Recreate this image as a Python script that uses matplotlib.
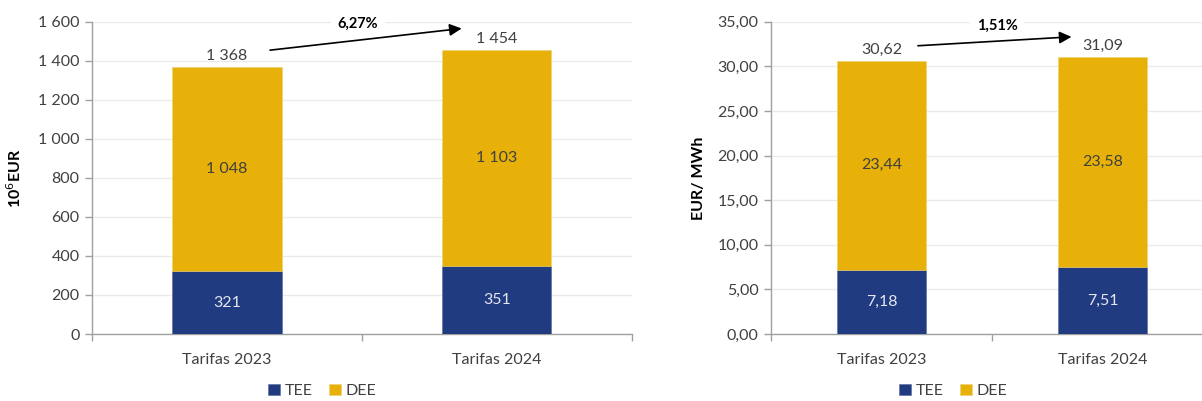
import matplotlib
matplotlib.use("Agg")
import matplotlib.pyplot as plt
import numpy as np

plt.rcParams['font.family'] = ['Lato', 'DejaVu Sans']

categories = ["Tarifas 2023", "Tarifas 2024"]
series_names = ["TEE", "DEE"]

# Left panel: millions of EUR
tee_eur = [321, 351]
dee_eur = [1048, 1103]
total_eur = [1368, 1454]
growth_eur = "6,27%"

# Right panel: EUR/MWh
tee_mwh = [7.18, 7.51]
dee_mwh = [23.44, 23.58]
total_mwh = [30.62, 31.09]
growth_mwh = "1,51%"

NAVY = "#213B80"
GOLD = "#E7B10A"
TXT = "#404040"
GRID = "#EBEBEB"
AXC = "#A0A0A0"
FS = 11.5


def fmt_int(v):
    return f"{v:,.0f}".replace(",", " ")


def fmt_dec(v):
    return f"{v:.2f}".replace(".", ",")


def draw(ax, tee, dee, totals, fmt, ylim, step, growth, arrow, ylabel,
         leg_x, labelpad):
    x = np.arange(len(categories))
    w = 0.405
    b1 = ax.bar(x, tee, w, color=NAVY, edgecolor="#5a6a9a", linewidth=0.4,
                label=series_names[0], zorder=3)
    b2 = ax.bar(x, dee, w, bottom=tee, color=GOLD, edgecolor="#f0d070",
                linewidth=0.4, label=series_names[1], zorder=3)
    for i in range(len(x)):
        ax.text(x[i], tee[i] / 2, fmt(tee[i]), ha="center", va="center",
                color="#E4E6F0", fontsize=FS, zorder=4)
        ax.text(x[i], tee[i] + dee[i] / 2, fmt(dee[i]), ha="center",
                va="center", color=TXT, fontsize=FS, zorder=4)
        ax.text(x[i], totals[i] + (ylim[1] * 0.012), fmt(totals[i]),
                ha="center", va="bottom", color=TXT, fontsize=FS, zorder=4)

    ax.set_xlim(-0.5, len(x) - 0.5)
    ax.set_ylim(*ylim)
    ticks = np.arange(ylim[0], ylim[1] + step / 2, step)
    ax.set_yticks(ticks)
    ax.set_yticklabels([fmt(t) for t in ticks], color=TXT, fontsize=FS)
    ax.set_xticks(x)
    ax.set_xticklabels(categories, color=TXT, fontsize=FS)
    ax.set_xticks(np.arange(-0.5, len(x)), minor=True)
    ax.tick_params(axis="x", which="major", length=0, pad=14)
    ax.tick_params(axis="x", which="minor", length=5, color=AXC, width=1)
    ax.tick_params(axis="y", length=5, color=AXC, width=1, pad=4)
    ax.yaxis.grid(True, color=GRID, linewidth=1, zorder=0)
    ax.set_axisbelow(True)
    for s in ("top", "right"):
        ax.spines[s].set_visible(False)
    for s in ("left", "bottom"):
        ax.spines[s].set_color(AXC)
        ax.spines[s].set_linewidth(1)
    ax.set_ylabel(ylabel, fontsize=FS, fontweight="bold", color="black",
                  labelpad=labelpad)

    (x0, y0), (x1, y1), (lx, ly) = arrow
    ax.annotate("", xy=(x1, y1), xytext=(x0, y0),
                arrowprops=dict(arrowstyle="-|>", color="black", lw=1.2,
                                mutation_scale=18, shrinkA=0, shrinkB=0),
                annotation_clip=False, zorder=6)
    ax.text(lx, ly, growth, ha="center", va="center", fontsize=10.5,
            fontweight="bold", color="black", zorder=5,
            bbox=dict(boxstyle="square,pad=0.45", facecolor="white",
                      edgecolor="none"))
    leg = ax.figure.legend(handles=[b1, b2], labels=series_names,
                           loc="center", bbox_to_anchor=(leg_x, 0.025),
                           ncol=2, frameon=False, fontsize=FS,
                           handlelength=0.75, handleheight=0.75,
                           handletextpad=0.3, columnspacing=1.0)
    for t in leg.get_texts():
        t.set_color(TXT)


fig = plt.figure(figsize=(12.02, 4.01), dpi=100)
ax1 = fig.add_axes([0.0765, 0.167, 0.449, 0.779])
ax2 = fig.add_axes([0.6414, 0.167, 0.3677, 0.779])

draw(ax1, tee_eur, dee_eur, total_eur, fmt_int, (0, 1600), 200, growth_eur,
     ((0.16, 1454), (0.87, 1565), (0.485, 1590)), r"10$^{6}$EUR", 0.268, 10)
draw(ax2, tee_mwh, dee_mwh, total_mwh, fmt_dec, (0, 35), 5, growth_mwh,
     ((0.165, 32.3), (0.86, 33.3), (0.524, 34.5)), "EUR/ MWh", 0.793, 8)

fig.savefig("out.png", dpi=100, facecolor="white")
